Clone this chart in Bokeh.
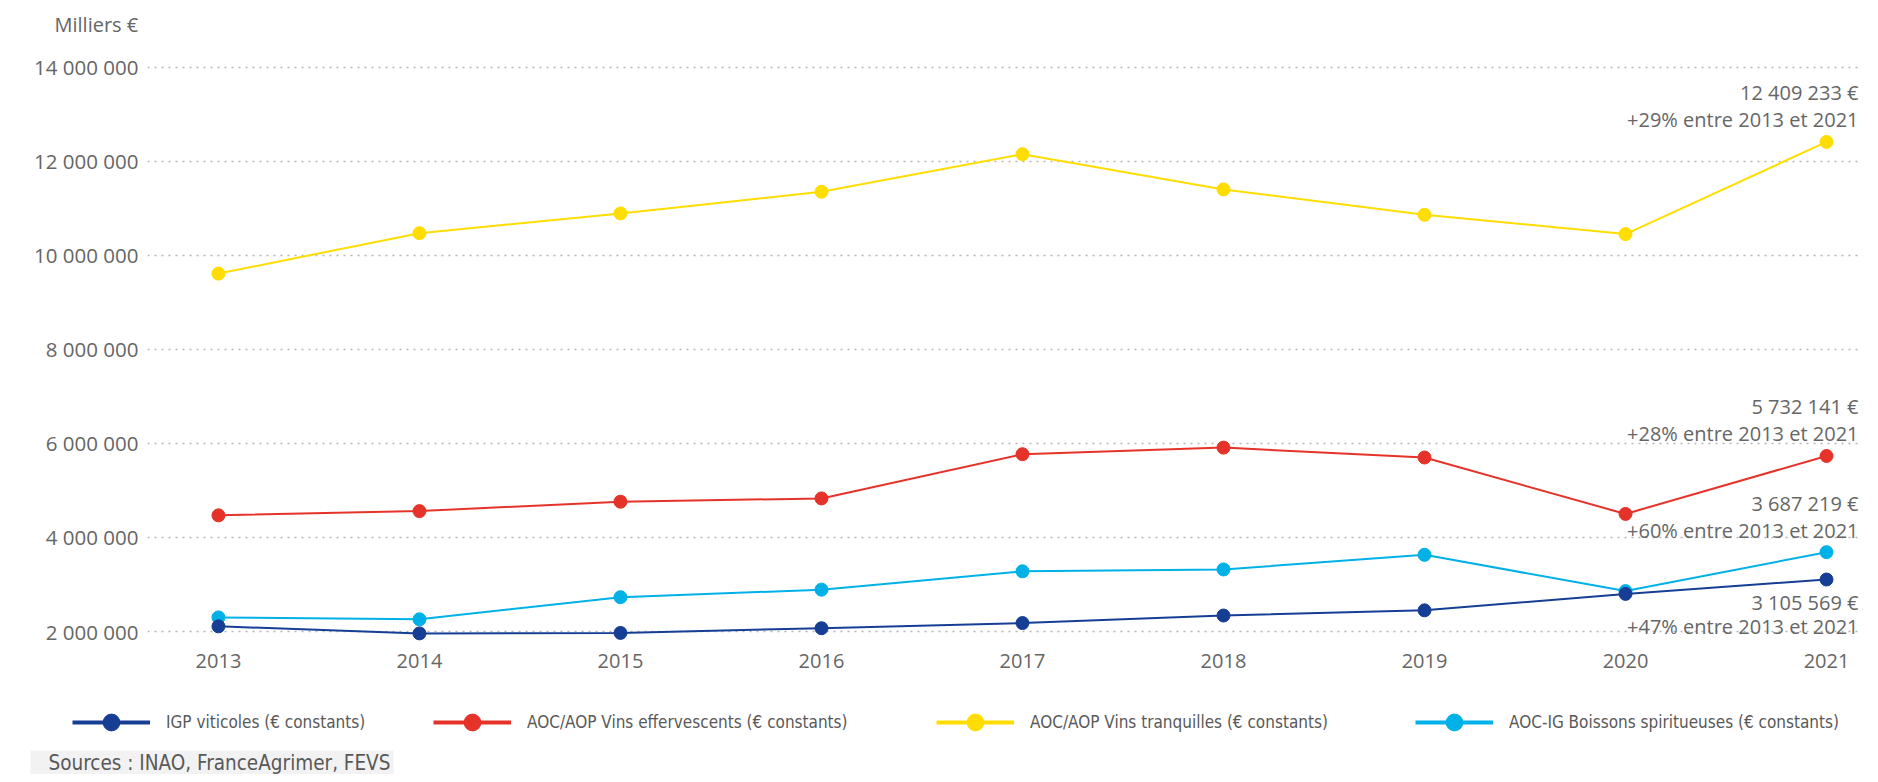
from bokeh.plotting import figure
from bokeh.models import Range1d, FixedTicker, Label, Legend, LegendItem
from bokeh.embed import file_html
from bokeh.resources import INLINE

# ---------------- data ----------------
years = [2013, 2014, 2015, 2016, 2017, 2018, 2019, 2020, 2021]
igp_viticoles = [2110000, 1960000, 1970000, 2070000, 2180000, 2340000, 2450000, 2800000, 3105569]
aoc_effervescents = [4470000, 4560000, 4760000, 4830000, 5770000, 5910000, 5700000, 4500000, 5732141]
aoc_tranquilles = [9610000, 10470000, 10890000, 11350000, 12150000, 11400000, 10860000, 10450000, 12409233]
aoc_spiritueuses = [2300000, 2260000, 2730000, 2890000, 3280000, 3320000, 3630000, 2860000, 3687219]

series_names = ["IGP viticoles (€ constants)",
                "AOC/AOP Vins effervescents (€ constants)",
                "AOC/AOP Vins tranquilles (€ constants)",
                "AOC-IG Boissons spiritueuses (€ constants)"]
series_colors = ["#173e95", "#e5332a", "#ffdd00", "#00b1e8"]

y_ticks = [2000000, 4000000, 6000000, 8000000, 10000000, 12000000, 14000000]
y_tick_labels = ["2 000 000", "4 000 000", "6 000 000", "8 000 000",
                 "10 000 000", "12 000 000", "14 000 000"]
x_tick_labels = ["2013", "2014", "2015", "2016", "2017", "2018", "2019", "2020", "2021"]

ann_values = ["3 105 569 €", "5 732 141 €", "12 409 233 €", "3 687 219 €"]
ann_pcts = ["+47% entre 2013 et 2021", "+28% entre 2013 et 2021",
            "+29% entre 2013 et 2021", "+60% entre 2013 et 2021"]
ann_below = [True, False, False, False]

unit_label = "Milliers €"
source_label = "Sources : INAO, FranceAgrimer, FEVS"

# ---------------- style ----------------
FONT = "Open Sans"
LEG_FONT = "Liberation Sans Narrow, DejaVu Sans Condensed, sans-serif"
TXT = "#666666"
W = 1862

p = figure(width=W, height=690, output_backend="svg", toolbar_location=None,
           x_range=Range1d(2012.647, 2021.179), y_range=Range1d(1660000, 14460000),
           min_border_left=147, min_border_right=0, min_border_top=45,
           min_border_bottom=43)
p.outline_line_color = None
p.border_fill_color = "white"

# unit label as title
p.title.text = unit_label
p.title.align = "left"
p.title.offset = -93
p.title.text_font = FONT
p.title.text_font_size = "20px"
p.title.text_font_style = "normal"
p.title.text_color = TXT
p.title.standoff = 15

# axes
p.xaxis.ticker = FixedTicker(ticks=years)
p.xaxis.major_label_overrides = {y: l for y, l in zip(years, x_tick_labels)}
p.yaxis.ticker = FixedTicker(ticks=y_ticks)
p.yaxis.major_label_overrides = {t: l for t, l in zip(y_ticks, y_tick_labels)}
for ax in (p.xaxis, p.yaxis):
    ax.axis_line_color = None
    ax.major_tick_line_color = None
    ax.minor_tick_line_color = None
    ax.major_label_text_font = FONT
    ax.major_label_text_color = TXT
p.xaxis.major_label_text_font_size = "20px"
p.yaxis.major_label_text_font_size = "20.5px"
p.xaxis.major_label_standoff = 0
p.yaxis.major_label_standoff = 3

p.xgrid.grid_line_color = None
p.ygrid.ticker = FixedTicker(ticks=y_ticks)
p.ygrid.bounds = (2012.647, 2021.144)
p.ygrid.grid_line_color = "#b5b5b5"
p.ygrid.grid_line_dash = "2 5"
p.ygrid.grid_line_width = 1.5

# series (navy drawn last)
all_series = [igp_viticoles, aoc_effervescents, aoc_tranquilles, aoc_spiritueuses]
for i in [2, 1, 3, 0]:
    col = series_colors[i]
    p.line(years, all_series[i], line_color=col, line_width=2)
    p.scatter(years, all_series[i], size=13, fill_color=col, line_color=col)

# annotations at the last point
for vals, v_txt, pct_txt, below in zip(all_series, ann_values, ann_pcts, ann_below):
    off1, off2 = (-23, -47) if below else (49, 22)
    for off, txt in ((off1, v_txt), (off2, pct_txt)):
        p.add_layout(Label(x=years[-1], y=vals[-1], x_offset=32, y_offset=off, text=txt,
                           text_align="right", text_baseline="middle", text_font=FONT,
                           text_font_size="20px", text_color=TXT))

# ---------------- legend + sources strip (separate root) ----------------
q = figure(width=W, height=84, output_backend="svg", toolbar_location=None,
           x_range=Range1d(0, 1), y_range=Range1d(0, 1),
           x_axis_location=None, y_axis_location=None,
           min_border_left=0, min_border_right=0, min_border_top=0, min_border_bottom=0)
q.outline_line_color = None
q.grid.visible = False

leg_x = [72, 433, 936, 1415]
for vals, name, col, lx in zip(all_series, series_names, series_colors, leg_x):
    lr = q.line(years, vals, line_color=col, line_width=4, visible=False)
    sr = q.scatter(years, vals, size=17, fill_color=col, line_color=col, visible=False)
    leg = Legend(items=[LegendItem(label=name, renderers=[lr, sr])],
                 location=(lx, 31), orientation="horizontal",
                 padding=0, margin=0, spacing=0,
                 glyph_width=78, glyph_height=42, label_height=42, label_standoff=16,
                 label_text_font=LEG_FONT, label_text_font_size="17px",
                 label_text_color="#595959", label_text_baseline="middle",
                 inactive_fill_alpha=0,
                 border_line_color=None, background_fill_alpha=0)
    q.add_layout(leg, "center")

q.add_layout(Label(x=30, x_units="screen", y=12, y_units="screen", text=source_label,
                   text_align="left", text_baseline="middle", text_font=LEG_FONT,
                   text_font_size="20.5px", text_color="#595959",
                   background_fill_color="#f2f2f2",
                   padding=dict(left=18, right=3, top=0, bottom=0)))

open("out.html", "w").write(file_html([p, q], INLINE))
